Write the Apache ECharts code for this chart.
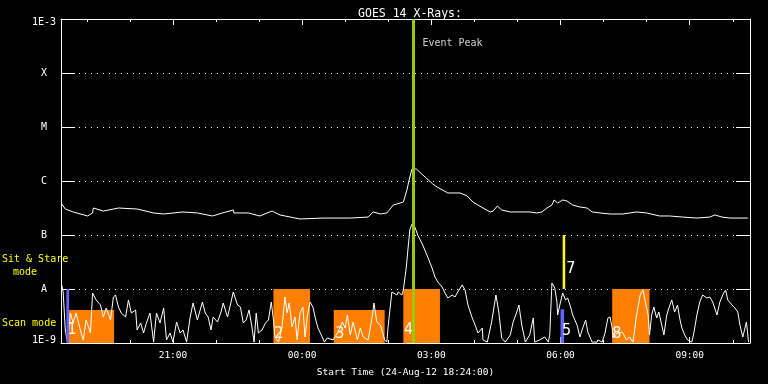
<!DOCTYPE html>
<html>
<head>
<meta charset="utf-8">
<script src="https://cdn.jsdelivr.net/npm/echarts@6/dist/echarts.min.js"></script>
<style>html,body{margin:0;padding:0;background:#000;}#c{width:768px;height:384px;}</style>
</head>
<body>
<div id="c"></div>
<script>
// ---- data (time in minutes after start 24-Aug-12 18:24:00) ----
const titleText = 'GOES 14 X-Rays:';
const xAxisName = 'Start Time (24-Aug-12 18:24:00)';
const timeSpan = [0, 960];
const majorTicks = [156, 336, 516, 696, 876];
const majorTickLabels = ['21:00', '00:00', '03:00', '06:00', '09:00'];
const minorTicks = [36, 96, 156, 216, 276, 336, 396, 456, 516, 576, 636, 696, 756, 816, 876, 936];
const yExponents = [-9, -8, -7, -6, -5, -4, -3];
const yTickLabels = ['1E-9', 'A', 'B', 'C', 'M', 'X', '1E-3'];

// long channel (upper curve)
const longT = [1,6,17,37,44,45,59,80,106,129,143,170,190,211,225,240,241,261,277,294,305,333,365,403,428,435,445,454,463,477,482,485,489,495,518,524,539,556,566,574,588,598,602,608,614,626,653,663,670,677,684,687,692,699,705,713,723,733,740,751,765,783,802,816,834,848,866,886,904,911,921,932,957];
const longFlux = [3.75e-7,3.03e-7,2.67e-7,2.25e-7,2.56e-7,3.16e-7,2.78e-7,3.16e-7,3.03e-7,2.56e-7,2.45e-7,2.67e-7,2.56e-7,2.25e-7,2.56e-7,2.90e-7,2.56e-7,2.56e-7,2.25e-7,2.78e-7,2.35e-7,1.98e-7,2.06e-7,2.06e-7,2.15e-7,2.67e-7,2.45e-7,2.56e-7,3.59e-7,4.08e-7,6.81e-7,1.04e-6,1.67e-6,1.67e-6,8.8e-7,7.74e-7,6.0e-7,6.0e-7,5.27e-7,4.08e-7,3.16e-7,2.67e-7,2.78e-7,3.44e-7,2.90e-7,2.67e-7,2.67e-7,2.56e-7,2.67e-7,3.16e-7,3.59e-7,4.45e-7,3.91e-7,4.45e-7,4.26e-7,3.59e-7,3.30e-7,3.16e-7,2.67e-7,2.56e-7,2.45e-7,2.45e-7,2.67e-7,2.56e-7,2.25e-7,2.25e-7,2.15e-7,2.06e-7,2.15e-7,2.35e-7,2.15e-7,2.06e-7,2.06e-7];

// short channel (lower curve)
const shortT = [1,3,6,9,13,17,21,27,31,35, 41,44,49,55,59,63,69,73,76,80, 84,90,94,98,104,106,111,115,119,124, 129,133,138,143,147,152,156,161,166,170, 175,180,184,190,197,201,205,209,212,218, 223,226,232,236,240,246,250,254,258,262, 266,269,272,275,280,285,289,293,296,298, 303,308,312,315,318,322,326,329,333,337, 340,343,347,351,354,358,364,367,371,379, 386,392,396,399,403,407,413,417,421,428, 434,436,440,445,449,451,454,456,461,463, 468,470,475,477,481,484,486,489,493,497, 504,511,517,521,525,531,535,539,545,549, 552,559,563,567,573,577,581,587,588,594, 600,606,610,614,619,626,630,635,638,642, 647,653,658,660,667,674,679,681,684,688, 691,692,695,699,703,706,710,713,719,723, 727,731,734,740,747,748,754,758,762,765, 768,769,775,782,788,792,797,802,807,811, 813,818,820,823,826,830,833,837,840,844, 847,851,855,859,862,865,869,873,879,882, 886,890,894,900,904,908,914,918,922,926, 929,935,939,943,946,950,955,958];
const shortFlux = [1.19e-8,8.80e-9,1.74e-9,1.04e-9,3.59e-9,2.35e-9,3.59e-9,1.74e-9,1.14e-9,2.67e-9,
1.53e-9,8.43e-9,6.26e-9,5.05e-9,3.03e-9,4.45e-9,2.67e-9,7.11e-9,7.74e-9,4.64e-9,
3.59e-9,3.03e-9,6.26e-9,3.59e-9,4.08e-9,1.74e-9,2.35e-9,1.53e-9,2.35e-9,3.59e-9,
1.04e-9,3.59e-9,2.35e-9,4.45e-9,1.14e-9,1.53e-9,1.04e-9,2.45e-9,1.53e-9,1.74e-9,
1.04e-9,3.03e-9,5.51e-9,2.67e-9,5.74e-9,3.59e-9,3.03e-9,1.74e-9,3.03e-9,2.45e-9,
3.75e-9,5.51e-9,3.03e-9,5.05e-9,8.80e-9,5.05e-9,4.64e-9,2.35e-9,2.67e-9,4.08e-9,
1.98e-9,1.04e-9,3.59e-9,1.53e-9,1.74e-9,2.35e-9,2.67e-9,5.74e-9,2.67e-9,1.29e-9,
1.04e-9,1.98e-9,7.11e-9,3.59e-9,5.51e-9,1.98e-9,3.03e-9,1.14e-9,3.59e-9,4.64e-9,
1.29e-9,3.03e-9,5.74e-9,4.64e-9,3.03e-9,1.90e-9,1.29e-9,1.04e-9,1.24e-9,1.14e-9,
1.60e-9,2.45e-9,1.90e-9,3.30e-9,1.41e-9,2.45e-9,1.14e-9,1.90e-9,1.29e-9,1.14e-9,
3.30e-9,5.51e-9,2.45e-9,2.15e-9,1.41e-9,1.14e-9,1.04e-9,2.15e-9,8.80e-9,9.58e-9,
7.74e-9,8.80e-9,7.74e-9,9.58e-9,2.45e-8,6.53e-8,1.24e-7,1.60e-7,1.41e-7,1.0e-7,
6.53e-8,3.91e-8,2.45e-8,1.67e-8,1.35e-8,1.09e-8,8.43e-9,6.81e-9,7.74e-9,7.11e-9,
8.43e-9,1.19e-8,9.58e-9,5.05e-9,2.90e-9,2.15e-9,1.53e-9,1.90e-9,1.14e-9,1.04e-9,
2.45e-9,7.74e-9,3.75e-9,1.24e-9,1.04e-9,1.41e-9,2.45e-9,3.75e-9,5.05e-9,2.15e-9,
1.04e-9,1.41e-9,2.90e-9,1.04e-9,1.14e-9,1.29e-9,1.04e-9,1.41e-9,1.29e-8,1.04e-8,
5.74e-9,3.30e-9,5.05e-9,8.43e-9,6.26e-9,6.81e-9,4.64e-9,3.30e-9,2.15e-9,1.29e-9,
1.90e-9,2.67e-9,1.60e-9,1.04e-9,1.04e-9,1.14e-9,1.04e-9,1.53e-9,2.90e-9,3.03e-9,
1.90e-9,1.24e-9,1.53e-9,1.60e-9,1.14e-9,1.29e-9,1.04e-9,3.30e-9,7.74e-9,9.58e-9,
6.81e-9,3.30e-9,1.41e-9,3.30e-9,4.64e-9,2.90e-9,3.75e-9,2.15e-9,1.41e-9,3.30e-9,
4.45e-9,6.26e-9,3.75e-9,5.05e-9,2.90e-9,1.90e-9,1.41e-9,1.14e-9,1.04e-9,1.60e-9,
3.30e-9,5.74e-9,7.74e-9,6.81e-9,7.11e-9,5.74e-9,3.30e-9,5.74e-9,7.74e-9,9.58e-9,
6.26e-9,5.05e-9,4.45e-9,3.75e-9,2.15e-9,1.29e-9,2.45e-9,1.04e-9];

// observing-mode indicators
const scanStart = [10, 296, 380, 477, 768];
const scanEnd = [74, 347, 451, 528, 820];
const scanTop = [4.1e-9, 1e-8, 4.1e-9, 1e-8, 1e-8];
const blueStart = [7.5, 696];
const blueEnd = [11.3, 701];
const blueTop = [1e-8, 4.2e-9];
const sitStart = [699];
const sitEnd = [702.5];
const sitBottom = [1e-8];
const sitTop = [1e-7];
const floorFlux = 1e-9;

const markerText = ['1', '2', '3', '4', '5', '7', '8'];
const markerT = [9, 297, 382, 478, 698, 704, 768];
const markerFlux = [1.24e-9, 1.04e-9, 1.04e-9, 1.24e-9, 1.19e-9, 1.67e-8, 1.04e-9];

const eventPeakT = 491;
const eventLabelFlux = 3.6e-4;

// ---- chart ----
const MONO = '"DejaVu Sans Mono", monospace';
const chart = echarts.init(document.getElementById('c'), null, {renderer: 'canvas'});

function rectSeries(name, starts, ends, bottoms, tops, color, z) {
  return {
    type: 'custom', name: name, xAxisIndex: 0, yAxisIndex: 0, z: z, silent: true,
    encode: {x: [0, 1], y: [2, 3]},
    data: starts.map((s, i) => [s, ends[i], bottoms[i], tops[i]]),
    renderItem: function (params, api) {
      const p0 = api.coord([api.value(0), api.value(3)]);
      const p1 = api.coord([api.value(1), api.value(2)]);
      return {type: 'rect', shape: {x: p0[0], y: p0[1], width: p1[0] - p0[0], height: p1[1] - p0[1]},
        style: {fill: color}};
    }
  };
}

function yLabel(v) {
  const e = Math.round(Math.log10(v));
  const i = yExponents.indexOf(e);
  if (i < 0) return '';
  const t = yTickLabels[i];
  if (i === yExponents.length - 1) return '{t|' + t + '}';
  if (i === 0) return '{b|' + t + '}';
  return t;
}

const option = {
  backgroundColor: '#000',
  animation: false,
  title: {
    text: titleText, left: 405, top: 3, textAlign: 'center',
    textStyle: {color: '#fff', fontFamily: MONO, fontSize: 11.5, fontWeight: 'normal'}
  },
  grid: {left: 61, right: 18, top: 19, bottom: 41, containLabel: false},
  xAxis: [
    {
      type: 'value', min: timeSpan[0], max: timeSpan[1], position: 'bottom',
      axisLine: {show: true, onZero: false, lineStyle: {color: '#fff', width: 1}},
      axisTick: {show: true, inside: true, length: 6, customValues: majorTicks, lineStyle: {color: '#fff'}},
      axisLabel: {show: true, customValues: majorTicks, color: '#fff', fontFamily: MONO, fontSize: 9.5, margin: 8,
        formatter: v => { const i = majorTicks.indexOf(Math.round(v)); return i >= 0 ? majorTickLabels[i] : ''; }},
      splitLine: {show: false},
      name: xAxisName, nameLocation: 'middle', nameGap: 25,
      nameTextStyle: {color: '#fff', fontFamily: MONO, fontSize: 9.5}
    },
    {
      type: 'value', min: timeSpan[0], max: timeSpan[1], position: 'bottom',
      axisLine: {show: false},
      axisTick: {show: true, inside: true, length: 3, customValues: minorTicks, lineStyle: {color: '#fff'}},
      axisLabel: {show: false}, splitLine: {show: false}
    },
    {
      type: 'value', min: timeSpan[0], max: timeSpan[1], position: 'top',
      axisLine: {show: true, onZero: false, lineStyle: {color: '#fff', width: 1}},
      axisTick: {show: true, inside: true, length: 6, customValues: majorTicks, lineStyle: {color: '#fff'}},
      axisLabel: {show: false}, splitLine: {show: false}
    },
    {
      type: 'value', min: timeSpan[0], max: timeSpan[1], position: 'top',
      axisLine: {show: false},
      axisTick: {show: true, inside: true, length: 3, customValues: minorTicks, lineStyle: {color: '#fff'}},
      axisLabel: {show: false}, splitLine: {show: false}
    }
  ],
  yAxis: [
    {
      type: 'log', logBase: 10, min: 1e-9, max: 1e-3, splitNumber: 6, position: 'left',
      axisLine: {show: true, onZero: false, lineStyle: {color: '#fff', width: 1}},
      axisTick: {show: true, inside: true, length: 14, lineStyle: {color: '#fff'}},
      axisLabel: {show: true, color: '#fff', fontFamily: MONO, fontSize: 10, margin: 17, align: 'center',
        formatter: yLabel,
        rich: {
          t: {color: '#fff', fontFamily: MONO, fontSize: 10, padding: [7, 0, 0, 0]},
          b: {color: '#fff', fontFamily: MONO, fontSize: 10, padding: [0, 0, 6, 0]}
        }},
      splitLine: {show: true, showMinLine: false, showMaxLine: false,
        lineStyle: {color: '#fff', width: 1, type: [1, 5]}}
    },
    {
      type: 'log', logBase: 10, min: 1e-9, max: 1e-3, splitNumber: 6, position: 'right',
      axisLine: {show: true, onZero: false, lineStyle: {color: '#fff', width: 1}},
      axisTick: {show: true, inside: true, length: 14, lineStyle: {color: '#fff'}},
      axisLabel: {show: false}, splitLine: {show: false}
    }
  ],
  graphic: [
    {type: 'text', x: 2, y: 259, z: 10, style: {text: 'Sit & Stare', fill: '#ffff00', font: '10px ' + MONO, verticalAlign: 'middle'}},
    {type: 'text', x: 13, y: 272, z: 10, style: {text: 'mode', fill: '#ffff00', font: '10px ' + MONO, verticalAlign: 'middle'}},
    {type: 'text', x: 2, y: 323.5, z: 10, style: {text: 'Scan mode', fill: '#ffff00', font: '10px ' + MONO, verticalAlign: 'middle'}}
  ],
  series: [
    rectSeries('scan', scanStart, scanEnd, scanStart.map(() => floorFlux), scanTop, '#ff8000', 1),
    {
      type: 'line', name: 'short', xAxisIndex: 0, yAxisIndex: 0, z: 2, silent: true,
      showSymbol: false, symbol: 'none',
      lineStyle: {color: '#fff', width: 1},
      data: shortT.map((t, i) => [t, shortFlux[i]])
    },
    {
      type: 'line', name: 'long', xAxisIndex: 0, yAxisIndex: 0, z: 2, silent: true,
      showSymbol: false, symbol: 'none',
      lineStyle: {color: '#fff', width: 1},
      data: longT.map((t, i) => [t, longFlux[i]])
    },
    rectSeries('blue', blueStart, blueEnd, blueStart.map(() => floorFlux), blueTop, '#6464ff', 3),
    rectSeries('sit', sitStart, sitEnd, sitBottom, sitTop, '#ffff00', 3),
    {
      type: 'custom', name: 'markers', xAxisIndex: 0, yAxisIndex: 0, z: 4, silent: true,
      encode: {x: 0, y: 1},
      data: markerT.map((t, i) => [t, markerFlux[i], i]),
      renderItem: function (params, api) {
        const p = api.coord([api.value(0), api.value(1)]);
        return {type: 'text', x: p[0], y: p[1],
          style: {text: markerText[api.value(2)], fill: '#fff',
            font: '16px "Liberation Sans Narrow", "DejaVu Sans Condensed", sans-serif',
            align: 'left', verticalAlign: 'bottom'}};
      }
    },
    {
      type: 'scatter', name: 'event', xAxisIndex: 0, yAxisIndex: 0, z: 5, silent: true,
      symbolSize: 0,
      data: [[eventPeakT, eventLabelFlux]],
      label: {show: true, position: 'right', distance: 9, formatter: 'Event Peak',
        color: '#fff', fontFamily: MONO, fontSize: 10},
      markLine: {
        silent: true, symbol: ['none', 'none'], animation: false,
        label: {show: false},
        lineStyle: {color: '#99cc00', width: 3, type: 'solid'},
        data: [{xAxis: eventPeakT}]
      }
    }
  ]
};
chart.setOption(option);
</script>
</body>
</html>
